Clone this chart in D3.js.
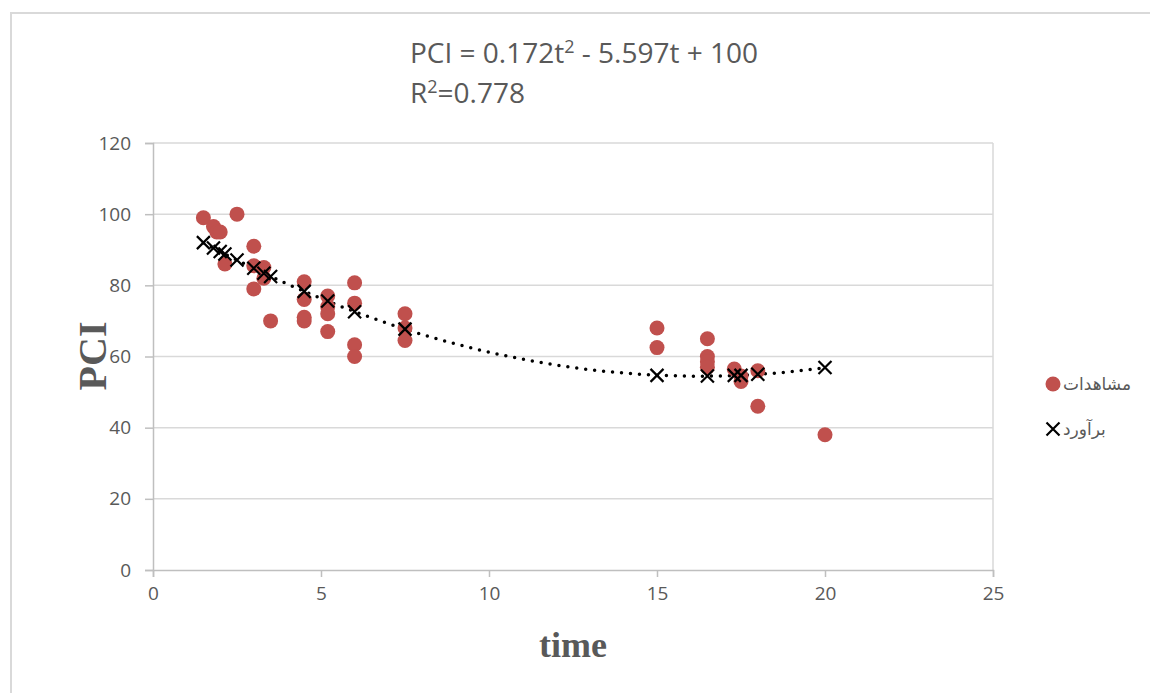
<!DOCTYPE html>
<html>
<head>
<meta charset="utf-8">
<script src="https://cdnjs.cloudflare.com/ajax/libs/d3/7.8.5/d3.min.js"></script>
<style>
  body{margin:0;background:#fff;}
  svg{display:block;}
  text{font-family:"Open Sans","Noto Sans",sans-serif;fill:#595959;}
</style>
</head>
<body>
<svg id="chart" width="1150" height="693"></svg>
<script>
var obsTime=[1.5,1.8,1.9,2.0,2.14,2.5,3.0,3.0,3.0,3.3,3.3,3.5,4.5,4.5,4.5,4.5,5.2,5.2,5.2,5.2,6,6,6,6,7.5,7.5,7.5,15,15,16.5,16.5,16.5,16.5,17.3,17.5,17.5,18,18,20];
var obsPCI =[99,96.5,95,95,86,100,91,85.5,79,85,82,70,81,76,71,70,77,74,72,67,80.7,75,63.3,60,72,68,64.5,68,62.5,65,60,58.5,57,56.5,53,54.5,56,46,38];
// estimated values (crosses)
var estTime=[1.5,1.8,2.0,2.14,2.5,3.0,3.3,3.5,4.5,5.2,6,7.5,15,16.5,17.3,17.5,18,20];
var estPCI =[92,90.5,89.5,88.8,87.1,84.8,83.4,82.5,78.3,75.6,72.6,67.7,54.7,54.5,54.7,54.7,55,56.9];
// trendline coefficients shown on the chart
var coef=[100,-5.597,0.172];
var xTicks=[0,5,10,15,20,25];
var yTicks=[0,20,40,60,80,100,120];
var legendNames=["مشاهدات","برآورد"];

var svg=d3.select("#chart");
var red="#C0504D";
var x=d3.scaleLinear().domain([0,25]).range([153,993]);
var y=d3.scaleLinear().domain([0,120]).range([570,143]);

// outer chart border
svg.append("path").attr("d","M11,700 V13 H1160").attr("fill","none").attr("stroke","#D9D9D9").attr("stroke-width",2);

// gridlines
svg.append("g").selectAll("line").data(yTicks.slice(1)).join("line")
  .attr("x1",x(0)).attr("x2",x(25)).attr("y1",d=>y(d)).attr("y2",d=>y(d))
  .attr("stroke","#D9D9D9").attr("stroke-width",1.5);
svg.append("line").attr("x1",x(25)).attr("x2",x(25)).attr("y1",y(120)).attr("y2",y(0))
  .attr("stroke","#D9D9D9").attr("stroke-width",1.5);

// axes
var xAxis=svg.append("g").attr("transform","translate(0,"+y(0)+")")
  .call(d3.axisBottom(x).tickValues(xTicks).tickSize(7).tickPadding(10));
var yAxis=svg.append("g").attr("transform","translate("+x(0)+",0)")
  .call(d3.axisLeft(y).tickValues(yTicks).tickSize(8).tickPadding(14));
[xAxis,yAxis].forEach(function(a){
  a.select(".domain").attr("stroke","#BFBFBF").attr("stroke-width",1.5);
  a.selectAll(".tick line").attr("stroke","#BFBFBF").attr("stroke-width",1.5);
  a.selectAll("text").attr("font-size",19).attr("fill","#595959")
    .style("font-family","'Open Sans','Noto Sans',sans-serif");
});

// trendline
var tt=d3.range(1.5,20.001,0.1);
svg.append("path")
  .attr("d",d3.line().x(d=>x(d)).y(d=>y(coef[0]+coef[1]*d+coef[2]*d*d))(tt))
  .attr("fill","none").attr("stroke","#000").attr("stroke-width",3.5)
  .attr("stroke-linecap","round").attr("stroke-dasharray","0 9");

// observations
svg.append("g").selectAll("circle").data(obsTime).join("circle")
  .attr("cx",d=>x(d)).attr("cy",(d,i)=>y(obsPCI[i])).attr("r",7.5).attr("fill",red);

// estimates
function cross(g,cx,cy,s){
  g.append("path").attr("d","M"+(cx-s)+","+(cy-s)+"L"+(cx+s)+","+(cy+s)+"M"+(cx-s)+","+(cy+s)+"L"+(cx+s)+","+(cy-s))
   .attr("stroke","#000").attr("stroke-width",2.2).attr("fill","none");
}
var est=svg.append("g");
estTime.forEach(function(t,i){cross(est,x(t),y(estPCI[i]),6.5);});

// equation
var eq=svg.append("text").attr("x",410).attr("y",63).attr("font-size",28);
eq.append("tspan").text("PCI = 0.172t");
eq.append("tspan").text("2").attr("font-size",18).attr("dy",-10);
eq.append("tspan").text(" - 5.597t + 100").attr("dy",10);
var r2=svg.append("text").attr("x",410).attr("y",103).attr("font-size",28);
r2.append("tspan").text("R");
r2.append("tspan").text("2").attr("font-size",18).attr("dy",-10);
r2.append("tspan").text("=0.778").attr("dy",10);

// axis titles
svg.append("text").attr("transform","translate(106,356) rotate(-90)")
  .attr("text-anchor","middle").style("font-family","'Liberation Serif','DejaVu Serif',serif")
  .attr("font-weight","bold").attr("font-size",40).text("PCI");
svg.append("text").attr("x",573).attr("y",657)
  .attr("text-anchor","middle").style("font-family","'Liberation Serif','DejaVu Serif',serif")
  .attr("font-weight","bold").attr("font-size",36).text("time");

// legend
var lg=svg.append("g");
lg.append("circle").attr("cx",1053).attr("cy",384).attr("r",7.5).attr("fill",red);
cross(lg,1053,429,6.5);
lg.selectAll("text").data(legendNames).join("text")
  .attr("x",1063).attr("y",(d,i)=>390+i*45).attr("font-size",17)
  .style("font-family","'Noto Sans','DejaVu Sans',sans-serif").text(d=>d);
</script>
</body>
</html>
